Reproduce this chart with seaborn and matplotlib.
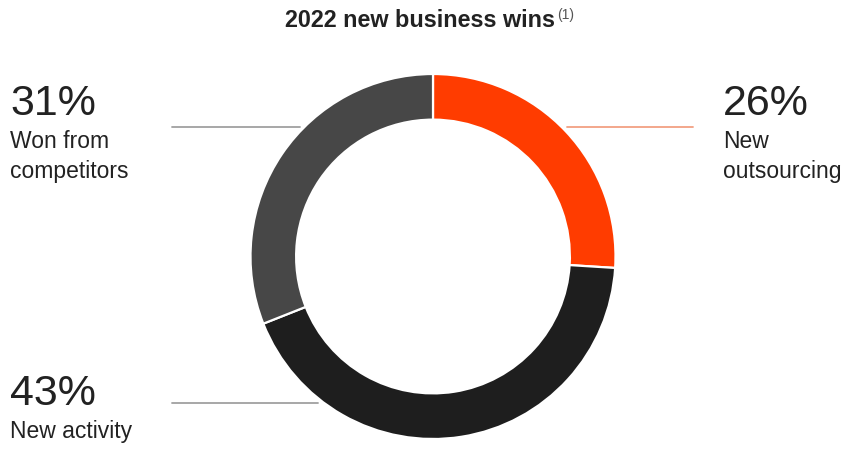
import matplotlib
matplotlib.use("Agg")
import matplotlib.pyplot as plt
import seaborn as sns

# Share of 2022 new business wins
categories = ["New outsourcing", "New activity", "Won from competitors"]
shares = [26, 43, 31]
label_lines = [["New", "outsourcing"], ["New activity"], ["Won from", "competitors"]]
colors = ["#FF3C00", "#1E1E1E", "#474747"]

sns.set_theme(style="white")
plt.rcParams["font.family"] = ["Liberation Sans", "DejaVu Sans"]

W, H = 850, 450
fig = plt.figure(figsize=(W / 100, H / 100), dpi=100)
fig.patch.set_facecolor("white")


def fx(x):
    return x / W


def fy(y):
    return 1 - y / H


# Donut placed in a square axes (pixel geometry of the ring)
cx, cy, r = 433, 256.5, 182.5
ax = fig.add_axes([fx(cx - r), fy(cy + r), 2 * r / W, 2 * r / H])
ax.pie(
    shares,
    colors=colors,
    startangle=90,
    counterclock=False,
    radius=1,
    wedgeprops=dict(width=0.25, edgecolor="white", linewidth=1.6),
)
ax.set_xlim(-1, 1)
ax.set_ylim(-1, 1)
ax.set_aspect("equal")
ax.axis("off")

text_color = "#222222"

# Title with superscript note marker, placed right after the bold text
title = fig.text(fx(285), fy(27), "2022 new business wins", fontsize=16.8,
                 fontweight="bold", color=text_color, ha="left", va="baseline")
fig.canvas.draw()
bb = title.get_window_extent()
fig.text(fx(bb.x1 + 2), fy(19), "(1)", fontsize=10, color="#555555",
         ha="left", va="baseline")

# Leader lines
lines = [
    ((567, 693), 127, "#F2A082"),   # New outsourcing
    ((172, 318), 403, "#A0A0A0"),   # New activity
    ((172, 300), 127, "#A0A0A0"),   # Won from competitors
]
for (x0, x1), y, c in lines:
    fig.add_artist(plt.Line2D([fx(x0), fx(x1)], [fy(y), fy(y)], color=c, linewidth=1.3))

# Percentage callouts
anchors = [(723, 115), (10, 405), (10, 115)]
for share, lines_txt, (x, y) in zip(shares, label_lines, anchors):
    fig.text(fx(x), fy(y), f"{share}%", fontsize=31, color=text_color,
             ha="left", va="baseline")
    for i, t in enumerate(lines_txt):
        fig.text(fx(x), fy(y + 33 + 30 * i), t, fontsize=16.5, color=text_color,
                 ha="left", va="baseline")

fig.savefig("out.png", dpi=100, facecolor="white")
